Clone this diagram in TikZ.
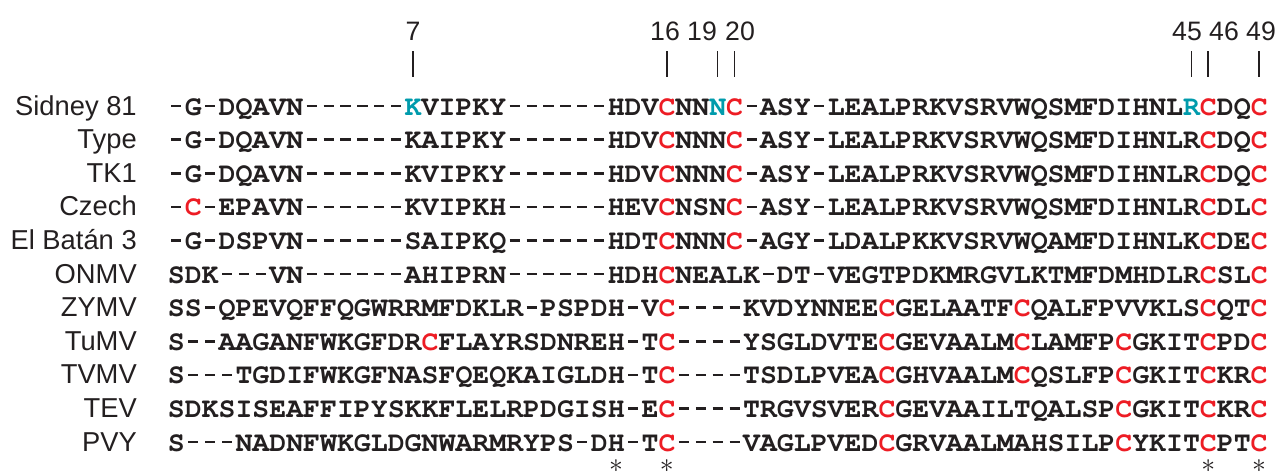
\documentclass[tikz,border=0pt]{standalone}
\usepackage{fontspec}
\usepackage[T1,TU]{fontenc}
\setmainfont{Liberation Sans}
\definecolor{cysred}{RGB}{237,28,36}
\definecolor{varteal}{RGB}{0,155,172}
\definecolor{inkgray}{RGB}{35,31,32}
\newcommand{\cyC}{\textcolor{cysred}{C}}
\newcommand{\tK}{\textcolor{varteal}{K}}
\newcommand{\tN}{\textcolor{varteal}{N}}
\newcommand{\tR}{\textcolor{varteal}{R}}
% a gap is a short dash in its own column
\newcommand{\gapdash}{\makebox[0.6em]{\rule[0.27em]{0.36em}{0.09em}}}
% one residue after the other
\def\resloop#1{\ifx#1\relax\else\ifx#1-\gapdash\else#1{}\fi\expandafter\resloop\fi}
\newcommand{\aln}[1]{\resloop#1\relax}

\begin{document}
\begin{tikzpicture}[x=0.75pt,y=-0.75pt,
  seqrow/.style={anchor=base west,inner sep=0pt,text=inkgray,font=\fontencoding{T1}\fontfamily{pcr}\fontseries{b}\fontsize{21.15}{24}\selectfont},
  isolate/.style={anchor=base east,inner sep=0pt,text=inkgray,font=\fontsize{20.5}{24}\selectfont},
  posnum/.style={anchor=base,inner sep=0pt,text=inkgray,font=\fontsize{20}{24}\selectfont},
  postick/.style={line width=1.1pt,color=inkgray},
  conserved/.style={inner sep=0pt,text=inkgray,font=\fontsize{22}{24}\selectfont}]
\useasboundingbox (0,0) rectangle (1285,472);
% residue numbers (Sidney 81)
\node[posnum] (n7) at (413,40) {7};
\node[posnum] (n16) at (665,40) {16};
\node[posnum] (n19) at (702,40) {19};
\node[posnum] (n20) at (740,40) {20};
\node[posnum] (n45) at (1187,40) {45};
\node[posnum] (n46) at (1224,40) {46};
\node[posnum] (n49) at (1261,40) {49};
\coordinate (t7a) at (413,51);    \coordinate (t7b) at (413,77);
\coordinate (t16a) at (666.8,51); \coordinate (t16b) at (666.8,77);
\coordinate (t19a) at (717.5,51); \coordinate (t19b) at (717.5,77);
\coordinate (t20a) at (734.5,51); \coordinate (t20b) at (734.5,77);
\coordinate (t45a) at (1191.3,51); \coordinate (t45b) at (1191.3,77);
\coordinate (t46a) at (1208.2,51); \coordinate (t46b) at (1208.2,77);
\coordinate (t49a) at (1259,51);  \coordinate (t49b) at (1259,77);
\draw[postick] (t7a) -- (t7b);
\draw[postick] (t16a) -- (t16b);
\draw[postick] (t19a) -- (t19b);
\draw[postick] (t20a) -- (t20b);
\draw[postick] (t45a) -- (t45b);
\draw[postick] (t46a) -- (t46b);
\draw[postick] (t49a) -- (t49b);
% isolates and viruses
\node[isolate] (lsid) at (137,115) {Sidney 81};
\node[isolate] (ltype) at (137,148.6) {Type};
\node[isolate] (ltk) at (137,182.2) {TK1};
\node[isolate] (lcz) at (137,215.8) {Czech};
\node[isolate] (lelb) at (137,249.4) {El Batán 3};
\node[isolate] (lonm) at (137,283) {ONMV};
\node[isolate] (lzym) at (137,316.6) {ZYMV};
\node[isolate] (ltum) at (137,350.2) {TuMV};
\node[isolate] (ltvm) at (137,383.8) {TVMV};
\node[isolate] (ltev) at (137,417.4) {TEV};
\node[isolate] (lpvy) at (137,451) {PVY};
% aligned sequences
\node[seqrow] (ssid) at (167.6,115) {\aln{-G-DQAVN------\tK VIPKY------HDV\cyC NN\tN\cyC -ASY-LEALPRKVSRVWQSMFDIHNL\tR\cyC DQ\cyC}};
\node[seqrow] (stype) at (167.6,148.6) {\aln{-G-DQAVN------KAIPKY------HDV\cyC NNN\cyC -ASY-LEALPRKVSRVWQSMFDIHNLR\cyC DQ\cyC}};
\node[seqrow] (stk) at (167.6,182.2) {\aln{-G-DQAVN------KVIPKY------HDV\cyC NNN\cyC -ASY-LEALPRKVSRVWQSMFDIHNLR\cyC DQ\cyC}};
\node[seqrow] (scz) at (167.6,215.8) {\aln{-\cyC -EPAVN------KVIPKH------HEV\cyC NSN\cyC -ASY-LEALPRKVSRVWQSMFDIHNLR\cyC DL\cyC}};
\node[seqrow] (selb) at (167.6,249.4) {\aln{-G-DSPVN------SAIPKQ------HDT\cyC NNN\cyC -AGY-LDALPKKVSRVWQAMFDIHNLK\cyC DE\cyC}};
\node[seqrow] (sonm) at (167.6,283) {\aln{SDK---VN------AHIPRN------HDH\cyC NEALK-DT-VEGTPDKMRGVLKTMFDMHDLR\cyC SL\cyC}};
\node[seqrow] (szym) at (167.6,316.6) {\aln{SS-QPEVQFFQGWRRMFDKLR-PSPDH-V\cyC ----KVDYNNEE\cyC GELAATF\cyC QALFPVVKLS\cyC QT\cyC}};
\node[seqrow] (stum) at (167.6,350.2) {\aln{S--AAGANFWKGFDR\cyC FLAYRSDNREH-T\cyC ----YSGLDVTE\cyC GEVAALM\cyC LAMFP\cyC GKIT\cyC PD\cyC}};
\node[seqrow] (stvm) at (167.6,383.8) {\aln{S---TGDIFWKGFNASFQEQKAIGLDH-T\cyC ----TSDLPVEA\cyC GHVAALM\cyC QSLFP\cyC GKIT\cyC KR\cyC}};
\node[seqrow] (stev) at (167.6,417.4) {\aln{SDKSISEAFFIPYSKKFLELRPDGISH-E\cyC ----TRGVSVER\cyC GEVAAILTQALSP\cyC GKIT\cyC KR\cyC}};
\node[seqrow] (spvy) at (167.6,451) {\aln{S---NADNFWKGLDGNWARMRYPS-DH-T\cyC ----VAGLPVED\cyC GRVAALMAHSILP\cyC YKIT\cyC PT\cyC}};
% conserved positions
\node[conserved] (c26) at (616,466) {$\ast$};
\node[conserved] (c29) at (666.8,466) {$\ast$};
\node[conserved] (c61) at (1208.2,466) {$\ast$};
\node[conserved] (c64) at (1259,466) {$\ast$};
\end{tikzpicture}
\end{document}
